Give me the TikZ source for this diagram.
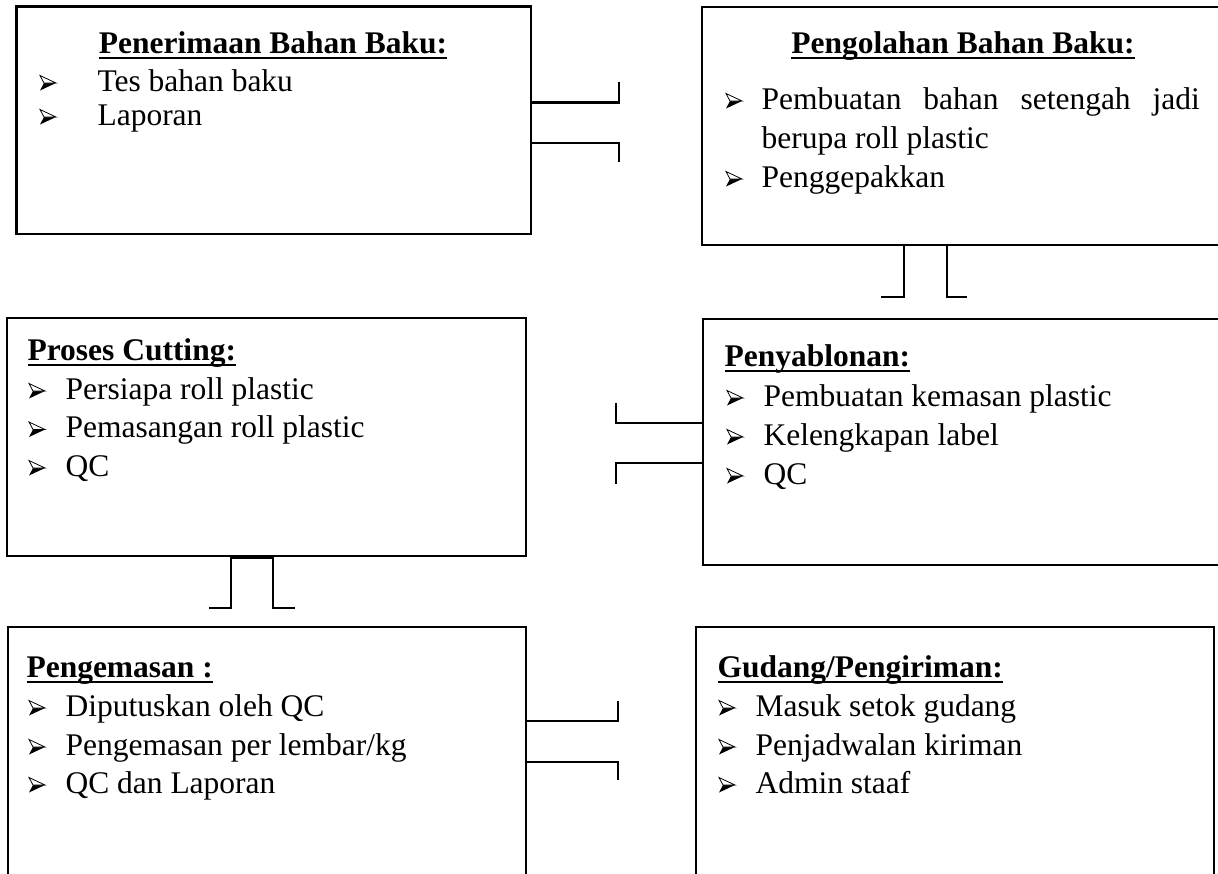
\documentclass[tikz,border=0pt]{standalone}
\usepackage{fontspec}
\setmainfont{Liberation Serif}
\usetikzlibrary{fit}
\newcommand\tul[1]{\setbox0\hbox{\bfseries #1}\rlap{\rule[-2.1pt]{\wd0}{0.75pt}}\box0}
\tikzset{
  box/.style={draw, line width=0.8pt, inner sep=0pt},
  conn/.style={line width=0.8pt},
  ttl/.style={inner sep=0pt, anchor=base west, font=\fontsize{12}{14}\selectfont},
  itm/.style={inner sep=0pt, anchor=base west, font=\fontsize{12}{14}\selectfont},
  arrowbul/.pic={
    \fill[black] (4,-8) -- (16,-8) -- (0,-0.5) -- cycle;
    \filldraw[fill=white, draw=black, line width=0.3pt] (0,-15.5) -- (16,-8) -- (4,-8) -- cycle;
  }
}
\begin{document}
\begin{tikzpicture}[x=0.381pt, y=-0.381pt]
\useasboundingbox (0,0) rectangle (1218,873);
\clip (0,0) rectangle (1218,873);

% boxes
\node[box, fit={(16.5,6.5) (531,234)}] (b1) {};
\node[box, fit={(702,7) (1224,245)}] (b2) {};
\node[box, fit={(7,318) (526,556)}] (b3) {};
\node[box, fit={(703,319) (1224,565)}] (b4) {};
\node[box, fit={(8,627) (526,890)}] (b5) {};
\node[box, fit={(696,627) (1214,890)}] (b6) {};

% box 1
\node[ttl, anchor=base] (t1) at (273,53) {\tul{Penerimaan Bahan Baku:}};
\pic at (40,91) {arrowbul};
\node[itm] (i11) at (97,91) {Tes bahan baku};
\pic at (40,125) {arrowbul};
\node[itm] (i12) at (97,125) {Laporan};

% box 2
\node[ttl, anchor=base] (t2) at (963,53) {\tul{Pengolahan Bahan Baku:}};
\pic at (726,109) {arrowbul};
\node[itm] (i21) at (761,109) {\makebox[167pt][s]{Pembuatan bahan setengah jadi}};
\node[itm] (i22) at (761,148) {berupa roll plastic};
\pic at (726,187) {arrowbul};
\node[itm] (i23) at (761,187) {Penggepakkan};

% box 3
\node[ttl] (t3) at (27,360) {\tul{Proses Cutting:}};
\pic at (29,399) {arrowbul};
\node[itm] (i31) at (65,399) {Persiapa roll plastic};
\pic at (29,437.5) {arrowbul};
\node[itm] (i32) at (65,437.5) {Pemasangan roll plastic};
\pic at (29,476) {arrowbul};
\node[itm] (i33) at (65,476) {QC};

% box 4
\node[ttl] (t4) at (724,366) {\tul{Penyablonan:}};
\pic at (727,406) {arrowbul};
\node[itm] (i41) at (763,406) {Pembuatan kemasan plastic};
\pic at (727,445) {arrowbul};
\node[itm] (i42) at (763,445) {Kelengkapan label};
\pic at (727,484) {arrowbul};
\node[itm] (i43) at (763,484) {QC};

% box 5
\node[ttl] (t5) at (26,677) {\tul{Pengemasan :}};
\pic at (29,716) {arrowbul};
\node[itm] (i51) at (65,716) {Diputuskan oleh QC};
\pic at (29,755) {arrowbul};
\node[itm] (i52) at (65,755) {Pengemasan per lembar/kg};
\pic at (29,793) {arrowbul};
\node[itm] (i53) at (65,793) {QC dan Laporan};

% box 6
\node[ttl] (t6) at (717,677) {\tul{Gudang/Pengiriman:}};
\pic at (719,716) {arrowbul};
\node[itm] (i61) at (755,716) {Masuk setok gudang};
\pic at (719,755) {arrowbul};
\node[itm] (i62) at (755,755) {Penjadwalan kiriman};
\pic at (719,793) {arrowbul};
\node[itm] (i63) at (755,793) {Admin staaf};

% connectors
\coordinate (c1a) at (619,82);
\coordinate (c1b) at (619,162);
\draw[conn] (b1.east |- 0,102.5) -| (c1a);
\draw[conn] (b1.east |- 0,143.3) -| (c1b);

\coordinate (c2a) at (881,297);
\coordinate (c2b) at (967,297);
\draw[conn] (b2.south -| 904,0) |- (c2a);
\draw[conn] (b2.south -| 947,0) |- (c2b);

\coordinate (c3a) at (616,403);
\coordinate (c3b) at (616,484);
\draw[conn] (b4.west |- 0,423) -| (c3a);
\draw[conn] (b4.west |- 0,463) -| (c3b);

\coordinate (c4a) at (209,608);
\coordinate (c4b) at (295,608);
\draw[conn] (c4a) -| (231,557.5) -| (273,608) -- (c4b);

\coordinate (c5a) at (618,701);
\coordinate (c5b) at (618,780);
\draw[conn] (b5.east |- 0,721) -| (c5a);
\draw[conn] (b5.east |- 0,762) -| (c5b);
\end{tikzpicture}
\end{document}
